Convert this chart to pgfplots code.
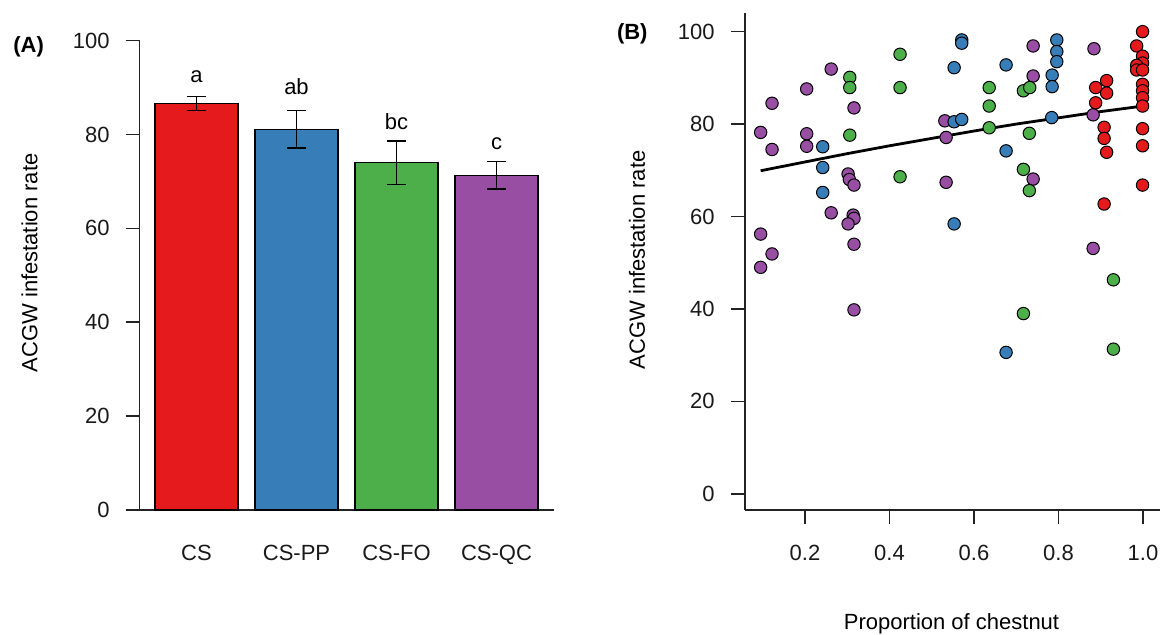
\documentclass[border=0pt]{standalone}
\usepackage{fontspec}
\setmainfont{Liberation Sans}
\usepackage{pgfplots}
\pgfplotsset{compat=1.18}
\definecolor{cRed}{HTML}{E41A1C}
\definecolor{cBlue}{HTML}{377EB8}
\definecolor{cGreen}{HTML}{4DAF4A}
\definecolor{cPurple}{HTML}{984EA3}
\definecolor{axcol}{HTML}{222222}
\begin{document}
\fontsize{11}{13}\selectfont
\begin{tikzpicture}
\useasboundingbox (0,0) rectangle (581.5pt,317.5pt);
\pgfplotsset{
 rstyle/.style={
  scale only axis,
  axis x line*=bottom, axis y line*=left,
  axis line style={line width=0.8pt, axcol, -},
  tick style={line width=0.8pt, axcol},
  tick align=outside,
  major tick length=7pt,
  /pgf/number format/assume math mode=true,
  tick label style={font=\fontsize{11}{13}\selectfont, text=black!90, inner sep=0pt},
  yticklabel style={anchor=east, xshift=-7.7pt},
  xticklabel style={anchor=base, yshift=-18.5pt},
  clip=false,
 },
 dots/.style={only marks, mark=*, mark size=3.1pt, mark options={draw=black, line width=0.5pt, fill=#1}},
}
% ---------------- Panel A ----------------
\begin{axis}[rstyle, at={(69.75pt,62.5pt)}, anchor=south west,
  width=207.25pt, height=234.65pt,
  xmin=-0.57, xmax=3.575, ymin=0, ymax=100,
  ytick={0,20,40,60,80,100},
  xtick={0,1,2,3}, xticklabels={CS,CS-PP,CS-FO,CS-QC},
  x tick style={draw=none},
  xticklabel style={yshift=0pt},
  ybar, bar width=0.83, bar shift=0pt,
  error bars/y dir=both, error bars/y explicit,
  error bars/error bar style={line width=0.7pt, black},
  error bars/error mark options={rotate=90, line width=0.7pt, black, mark size=4.8pt},
]
\addplot[fill=cRed, draw=black, line width=0.6pt] coordinates {(0,86.6) +- (0,1.5)};
\addplot[fill=cBlue, draw=black, line width=0.6pt] coordinates {(1,81.1) +- (0,4.0)};
\addplot[fill=cGreen, draw=black, line width=0.6pt] coordinates {(2,74.0) +- (0,4.6)};
\addplot[fill=cPurple, draw=black, line width=0.6pt] coordinates {(3,71.3) +- (0,2.9)};
\draw[line width=0.8pt, axcol] (axis cs:-0.705,0) -- (axis cs:-0.57,0);
\node[anchor=base] at (axis cs:0,91.05) {a};
\node[anchor=base] at (axis cs:1,88.6) {ab};
\node[anchor=base] at (axis cs:2,81.0) {bc};
\node[anchor=base] at (axis cs:3,76.9) {c};
\end{axis}
\node[rotate=90] at (14.75pt,186pt) {ACGW infestation rate};
\node[anchor=base west, inner sep=0pt, font=\fontsize{11}{13}\selectfont\bfseries] at (6.5pt,291.2pt) {(A)};
% ---------------- Panel B ----------------
\begin{axis}[rstyle, at={(372.5pt,62.5pt)}, anchor=south west,
  width=207.65pt, height=248.65pt,
  xmin=0.058, xmax=1.041, ymin=-3.5, ymax=104.1,
  ytick={0,20,40,60,80,100},
  xtick={0.2,0.4,0.6,0.8,1.0},
  yticklabel style={xshift=-0.3pt},
  xticklabel style={/pgf/number format/.cd, fixed, fixed zerofill, precision=1},
]
\addplot[dots=cPurple] coordinates {
(0.262,91.9) (0.204,87.6) (0.122,84.5) (0.316,83.5) (0.095,78.2) (0.204,77.9)
(0.122,74.5) (0.204,75.2) (0.302,69.2) (0.305,68.0) (0.316,66.8) (0.262,60.8)
(0.314,60.3) (0.316,59.6) (0.302,58.4) (0.095,56.2) (0.122,51.9) (0.095,49.0)
(0.316,54.0) (0.316,39.8) (0.531,80.7) (0.534,77.1) (0.534,67.4) (0.740,96.9)
(0.740,90.4) (0.740,68.1) (0.884,96.3) (0.882,82.0) (0.882,53.1)
};
\addplot[dots=cGreen] coordinates {
(0.425,95.1) (0.306,90.1) (0.306,87.9) (0.425,87.9) (0.306,77.6) (0.425,68.6)
(0.636,87.9) (0.636,83.9) (0.636,79.2) (0.717,87.2) (0.732,87.9) (0.731,78.0)
(0.717,70.2) (0.731,65.6) (0.930,46.3) (0.717,39.0) (0.930,31.3)
};
\addplot[dots=cBlue] coordinates {
(0.242,75.1) (0.242,70.6) (0.242,65.2) (0.553,92.2) (0.553,80.5) (0.571,81.0)
(0.553,58.4) (0.571,98.2) (0.571,97.5) (0.676,92.8) (0.676,74.2) (0.676,30.6)
(0.796,98.2) (0.796,95.7) (0.796,93.5) (0.785,90.6) (0.785,88.1) (0.784,81.4)
};
\addplot[dots=cRed] coordinates {
(0.999,100.0) (0.985,96.9) (0.999,94.7) (0.999,93.2) (0.985,92.7) (0.985,91.7)
(0.999,91.7) (0.999,88.6) (0.999,87.2) (0.999,85.7) (0.999,83.9) (0.999,79.0)
(0.999,75.3) (0.999,66.8)
(0.888,87.9) (0.914,89.4) (0.914,86.7) (0.888,84.6) (0.908,79.3) (0.908,76.9)
(0.914,73.9) (0.908,62.7)
};
\addplot[black, line width=1.4pt, no marks] coordinates {
(0.095,69.9) (0.2,71.8) (0.3,73.6) (0.4,75.3) (0.5,76.9) (0.6,78.5)
(0.7,80.0) (0.8,81.35) (0.9,82.7) (1.0,83.9)
};
\end{axis}
\node[rotate=90] at (318.5pt,187.5pt) {ACGW infestation rate};
\node[anchor=base] at (475.75pt,2.9pt) {Proportion of chestnut};
\node[anchor=base west, inner sep=0pt, font=\fontsize{11}{13}\selectfont\bfseries] at (308.3pt,297.75pt) {(B)};
\end{tikzpicture}
\end{document}
